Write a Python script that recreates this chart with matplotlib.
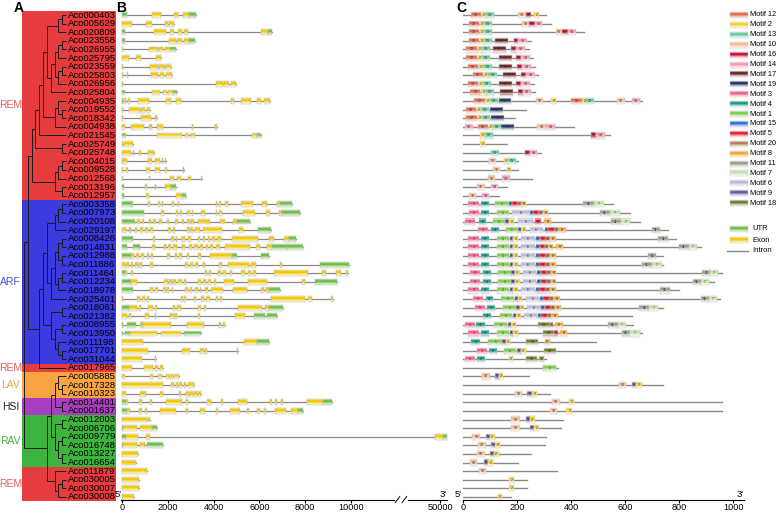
import matplotlib
matplotlib.use('Agg')
import matplotlib.pyplot as plt
from matplotlib.patches import Rectangle
from matplotlib.colors import to_rgb
import numpy as np

plt.rcParams['font.family'] = ['Liberation Sans', 'DejaVu Sans']

genes = ['Aco000403', 'Aco005629', 'Aco020809', 'Aco023558', 'Aco026955', 'Aco025795',
         'Aco023559', 'Aco025803', 'Aco026956', 'Aco025804', 'Aco004935', 'Aco019552',
         'Aco018342', 'Aco004938', 'Aco021545', 'Aco025749', 'Aco025748', 'Aco004015',
         'Aco009528', 'Aco012568', 'Aco013196', 'Aco012957',
         'Aco003358', 'Aco007973', 'Aco020108', 'Aco029197', 'Aco008426', 'Aco014831',
         'Aco012988', 'Aco011886', 'Aco011464', 'Aco012234', 'Aco018978', 'Aco025401',
         'Aco018061', 'Aco021382', 'Aco008955', 'Aco013950', 'Aco011198', 'Aco017701',
         'Aco031044',
         'Aco017965', 'Aco005885', 'Aco017328', 'Aco010323', 'Aco014401', 'Aco001637',
         'Aco012003', 'Aco006706', 'Aco009779', 'Aco016748', 'Aco013227', 'Aco016654',
         'Aco011879', 'Aco030005', 'Aco030007', 'Aco030008']

group_names = ['REM', 'ARF', 'REM', 'LAV', 'HSI', 'RAV', 'REM']
group_first = [1, 23, 42, 43, 46, 48, 54]
group_last = [22, 41, 42, 45, 47, 53, 57]
group_band = ['#e63c3e', '#3b3ade', '#e63c3e', '#f8a443', '#a73fbf', '#3db43d', '#e63c3e']
group_text = ['#ef5a5a', '#4b4be6', '#ef5a5a', '#f5a040', '#222222', '#3cb43c', '#ef5a5a']

# tree topology (leaf = row number)
rem1a = (((1, 2), 3), ((((4, 5), 6), ((7, 8), 9)), 10))
rem1b = ((11, (12, 13)), 14)
rem1 = ((((rem1a, rem1b), 15), (16, 17)), (((18, 19), 20), (21, 22)))
arf = (((((23, 24), 25), 26), ((((27, 28), (29, 30)), ((31, 32), 33)), 34)),
       ((35, 36), ((37, 38), (39, (40, 41)))))
rest = ((((43, (44, 45)), (46, 47)), ((48, 49), ((50, 51), (52, 53)))), (54, ((55, 56), 57)))
tree = ((rem1, (arf, 42)), rest)

# gene structures in bp: (kind, start, end), U = UTR, E = exon
gene_blocks = [
    [('U', 0, 200), ('E', 1330, 1700), ('E', 2250, 2450), ('E', 2660, 2920), ('U', 2920, 3230)],
    [('E', 0, 450), ('E', 1050, 1290), ('E', 1880, 2000), ('E', 2060, 2250)],
    [('U', 0, 150), ('E', 1400, 1930), ('E', 2100, 2290), ('E', 2450, 2600), ('E', 2700, 2880), ('E', 6070, 6380), ('U', 6380, 6560)],
    [('U', 0, 120), ('E', 2040, 2350), ('E', 2420, 2640), ('E', 2700, 2930), ('U', 2930, 3170)],
    [('E', 0, 30), ('E', 1200, 1560), ('E', 1620, 1780), ('E', 1880, 2100), ('U', 2100, 2350)],
    [('E', 0, 310), ('E', 610, 830), ('E', 1470, 1710)],
    [('E', 0, 30), ('E', 1230, 1560), ('E', 1620, 1840), ('E', 1880, 2150)],
    [('E', 0, 60), ('E', 230, 280), ('E', 1260, 1590), ('E', 1640, 1840), ('E', 1900, 2180)],
    [('E', 0, 30), ('E', 4090, 4400), ('E', 4460, 4670), ('E', 4760, 4990)],
    [('U', 0, 120), ('E', 1330, 1640), ('E', 1770, 1960), ('E', 2030, 2220), ('U', 2220, 2390)],
    [('U', 0, 60), ('E', 100, 170), ('E', 250, 350), ('E', 690, 1200), ('E', 1910, 2150), ('E', 2350, 2580), ('E', 4750, 4880), ('E', 5180, 5650), ('E', 5880, 6070), ('E', 6210, 6480)],
    [('E', 0, 30), ('E', 320, 790), ('E', 850, 1020), ('E', 1110, 1230)],
    [('E', 0, 30), ('E', 830, 1280), ('E', 1420, 1530)],
    [('E', 0, 130), ('E', 410, 940), ('E', 1190, 1330), ('E', 1530, 1810), ('E', 3050, 3100), ('E', 4060, 4150)],
    [('U', 0, 175), ('E', 1520, 2610), ('E', 2770, 2910), ('E', 3010, 3180), ('E', 5690, 5900), ('U', 5900, 6090)],
    [('E', 0, 60), ('E', 90, 500)],
    [('E', 0, 400), ('E', 480, 540), ('E', 760, 830), ('E', 1150, 1390)],
    [('E', 0, 50), ('E', 60, 230), ('E', 1150, 1330), ('E', 1450, 1660), ('E', 1740, 1810), ('E', 1870, 1930)],
    [('E', 0, 60), ('E', 160, 280), ('E', 1050, 1230), ('E', 1450, 1660), ('E', 1880, 1960), ('U', 2660, 2720)],
    [('E', 0, 30), ('E', 1180, 1240), ('E', 2100, 2250), ('E', 2390, 2570), ('E', 2880, 3020), ('E', 3460, 3500)],
    [('U', 0, 100), ('E', 1010, 1080), ('E', 1420, 1480), ('E', 1880, 2140), ('U', 2140, 2350)],
    [('U', 0, 100), ('E', 1050, 1180), ('E', 2350, 2610), ('U', 2610, 2800)],
    [('U', 0, 450), ('E', 450, 480), ('E', 1140, 1240), ('E', 1560, 1640), ('E', 1740, 1810), ('E', 2180, 2290), ('E', 2440, 2510), ('E', 4090, 4160), ('E', 4220, 4310), ('E', 4500, 4630), ('E', 5200, 5710), ('E', 6120, 6310), ('E', 6750, 6890), ('U', 6890, 7430)],
    [('U', 0, 980), ('E', 1710, 1830), ('E', 2360, 2440), ('E', 2540, 2630), ('E', 2830, 2980), ('E', 3050, 3120), ('E', 3450, 3640), ('E', 4090, 4160), ('E', 4250, 4350), ('E', 5290, 5810), ('E', 6280, 6470), ('E', 6860, 6980), ('U', 6980, 7770)],
    [('U', 0, 570), ('E', 640, 790), ('E', 890, 980), ('E', 1170, 1260), ('E', 1370, 1490), ('E', 1620, 1740), ('E', 1960, 2040), ('E', 2320, 2440), ('E', 2610, 2720), ('E', 2850, 2960), ('E', 3020, 3150), ('E', 3300, 3850), ('E', 4290, 4480), ('E', 4860, 5020), ('U', 5020, 5580)],
    [('E', 0, 180), ('E', 320, 410), ('E', 570, 670), ('E', 800, 910), ('E', 990, 1140), ('E', 1230, 1340), ('E', 2030, 2150), ('E', 2210, 2320), ('E', 2830, 2950), ('E', 3020, 3120), ('E', 3200, 3390), ('E', 3520, 4370), ('E', 5130, 5300), ('U', 5940, 6510)],
    [('U', 0, 500), ('E', 1370, 1460), ('E', 2150, 2250), ('E', 2350, 2420), ('E', 2610, 2740), ('E', 2880, 3010), ('E', 3310, 3390), ('E', 3530, 3640), ('E', 3750, 3860), ('E', 3940, 4060), ('E', 4150, 4340), ('E', 4800, 5930), ('E', 6420, 6630), ('E', 7070, 7290), ('U', 7290, 7610)],
    [('U', 0, 230), ('U', 470, 790), ('E', 1300, 1420), ('E', 1840, 1930), ('E', 2030, 2120), ('E', 2230, 2380), ('E', 2640, 2740), ('E', 2920, 3040), ('E', 3130, 3300), ('E', 3420, 3530), ('E', 3660, 3750), ('E', 3850, 3960), ('E', 4120, 4260), ('E', 4480, 5610), ('E', 5840, 6010), ('E', 6340, 6540), ('U', 6540, 7210), ('U', 7210, 7900)],
    [('U', 0, 410), ('E', 410, 540), ('E', 630, 730), ('E', 850, 960), ('E', 1070, 1180), ('E', 1250, 1370), ('E', 1960, 2100), ('E', 2310, 2420), ('E', 2510, 2630), ('E', 2830, 2920), ('E', 3310, 3460), ('E', 3830, 4810), ('U', 4810, 5000), ('U', 6050, 6440)],
    [('E', 0, 120), ('E', 180, 290), ('E', 380, 500), ('E', 570, 690), ('E', 760, 890), ('E', 1230, 1370), ('E', 2750, 2880), ('E', 2950, 3100), ('E', 3180, 3310), ('E', 3540, 3620), ('E', 4250, 4380), ('E', 4630, 5550), ('E', 5620, 5830), ('E', 6890, 6970), ('U', 8630, 9930)],
    [('U', 0, 150), ('E', 150, 200), ('E', 390, 500), ('E', 3610, 3710), ('E', 3780, 3880), ('E', 4180, 4320), ('E', 4420, 4560), ('E', 4730, 4800), ('E', 5210, 5390), ('E', 5490, 5620), ('E', 5720, 5830), ('E', 6630, 8130), ('E', 8730, 8890), ('E', 9340, 9550), ('E', 9770, 9870)],
    [('U', 0, 390), ('E', 390, 640), ('E', 1840, 1990), ('E', 2040, 2190), ('E', 2220, 2370), ('E', 2450, 2600), ('E', 2690, 2800), ('E', 3300, 3430), ('E', 3520, 3650), ('E', 3770, 3900), ('E', 4000, 4120), ('E', 4440, 4890), ('E', 5520, 6340), ('E', 7840, 8000), ('U', 8420, 8640), ('U', 8640, 9400)],
    [('U', 0, 470), ('E', 1230, 1370), ('E', 1450, 1550), ('E', 1800, 1910), ('E', 1960, 2060), ('E', 2180, 2230), ('E', 2770, 2900), ('E', 2950, 3070), ('E', 3170, 3300), ('E', 3390, 3460), ('E', 3640, 3740), ('E', 3880, 4410), ('E', 4850, 5460), ('E', 6070, 6210), ('E', 6280, 6410), ('U', 6410, 6890)],
    [('E', 0, 60), ('E', 660, 790), ('E', 890, 990), ('E', 1110, 1170), ('E', 2560, 2660), ('E', 2720, 2800), ('E', 3140, 3230), ('E', 3460, 3560), ('E', 3650, 3830), ('E', 4100, 4200), ('E', 4260, 4370), ('E', 6510, 8010), ('E', 8130, 8310), ('E', 9110, 9210)],
    [('U', 0, 320), ('E', 320, 670), ('E', 760, 820), ('E', 1150, 1340), ('E', 1420, 1520), ('E', 2210, 2320), ('E', 2390, 2580), ('E', 3330, 3460), ('E', 3560, 3650), ('E', 5070, 6120), ('E', 6240, 6410), ('U', 6410, 7040)],
    [('E', 0, 230), ('E', 320, 410), ('E', 990, 1160), ('E', 1420, 1480), ('E', 2100, 2250), ('E', 2320, 2390), ('E', 3300, 3420), ('E', 4920, 5390), ('U', 5750, 5990), ('U', 5990, 6260), ('U', 6340, 6780)],
    [('U', 0, 60), ('U', 200, 610), ('E', 790, 880), ('U', 880, 930), ('E', 930, 2150), ('E', 2830, 3580), ('E', 4220, 4340), ('E', 4410, 4490)],
    [('U', 0, 60), ('U', 130, 350), ('E', 350, 1520), ('E', 1700, 2570), ('U', 2710, 3450)],
    [('E', 0, 930), ('E', 5320, 5900), ('U', 5900, 6420)],
    [('E', 0, 1150), ('E', 2610, 2950), ('E', 3420, 3560), ('E', 3640, 3710), ('E', 5020, 5060)],
    [('E', 0, 890), ('E', 1450, 1490)],
    [('E', 0, 420), ('E', 980, 1370), ('E', 1450, 1590), ('E', 1660, 1770)],
    [('E', 0, 130), ('E', 1230, 1340), ('E', 1590, 1740), ('E', 1910, 2060), ('E', 2100, 2220), ('E', 2250, 2510)],
    [('E', 0, 1780), ('E', 2150, 2250), ('E', 2340, 2440), ('E', 2510, 2610), ('E', 2690, 2800), ('E', 2890, 3140)],
    [('E', 0, 160), ('E', 790, 1050), ('E', 1660, 1810), ('E', 2500, 2590), ('E', 2790, 2940), ('E', 2980, 3080), ('E', 3140, 3270), ('E', 3340, 3460)],
    [('U', 0, 180), ('E', 180, 280), ('E', 760, 860), ('E', 1210, 1310), ('E', 1910, 2610), ('E', 2800, 2890), ('E', 3710, 3890), ('E', 4330, 4410), ('E', 5070, 5460), ('E', 6460, 6530), ('E', 6660, 6770), ('E', 6950, 7040), ('E', 8090, 8760), ('U', 8760, 9160)],
    [('U', 0, 200), ('E', 200, 370), ('E', 760, 860), ('E', 990, 1080), ('E', 1670, 2350), ('E', 2800, 2890), ('E', 3420, 3610), ('E', 4120, 4190), ('E', 4700, 5170), ('E', 5460, 5530), ('E', 5900, 6010), ('E', 6190, 6290), ('E', 6700, 7170), ('E', 7360, 7680), ('U', 7680, 7920)],
    [('E', 0, 1080), ('E', 1150, 1240)],
    [('U', 0, 30), ('E', 30, 670), ('E', 790, 1290), ('U', 1290, 1520)],
    [('U', 0, 160), ('E', 160, 690), ('E', 1040, 1230), ('E', 49700, 50150), ('U', 50150, 50400)],
    [('U', 0, 60), ('E', 60, 670), ('E', 790, 1010), ('U', 1110, 1770)],
    [('E', 0, 720)],
    [('E', 0, 600)],
    [('E', 0, 1080)],
    [('E', 0, 730)],
    [('E', 0, 730)],
    [('E', 0, 540)],
]

# protein lengths (aa) and conserved motifs: (motif, start, end)
prot_len = [309, 327, 447, 253, 245, 259, 266, 278, 263, 268, 664, 235, 194, 410, 543, 163, 290,
            204, 204, 257, 163, 133,
            556, 618, 655, 760, 790, 880, 741, 741, 960, 930, 800, 950, 741, 624, 630, 661, 494,
            543, 309,
            352, 243, 741, 321, 960, 960, 371, 361, 306, 303, 253, 204, 348, 238, 238, 179]

motif_hits = [
    [(12, 28, 68), (2, 70, 86), (13, 86, 115), (10, 204, 232), (16, 235, 253), (2, 263, 281)],
    [(12, 21, 59), (2, 62, 78), (13, 78, 108), (10, 219, 245), (16, 245, 266), (14, 266, 294)],
    [(12, 21, 59), (2, 62, 78), (13, 78, 108), (10, 343, 368), (16, 368, 387), (14, 387, 420)],
    [(12, 21, 59), (2, 62, 78), (13, 78, 108), (17, 117, 167), (16, 188, 204), (14, 204, 237)],
    [(12, 12, 52), (2, 56, 70), (13, 70, 101), (17, 111, 158), (16, 179, 198), (14, 198, 231)],
    [(12, 12, 53), (2, 56, 70), (13, 70, 99), (17, 133, 182), (16, 198, 216), (14, 216, 247)],
    [(12, 19, 56), (2, 59, 74), (13, 74, 107), (17, 133, 182), (16, 201, 220), (14, 220, 251)],
    [(12, 37, 74), (2, 78, 93), (13, 93, 124), (17, 148, 198), (16, 216, 235), (14, 235, 266)],
    [(12, 19, 56), (2, 59, 74), (13, 74, 105), (17, 133, 182), (16, 198, 216), (14, 216, 247)],
    [(12, 27, 64), (2, 68, 84), (13, 84, 115), (17, 138, 185), (16, 204, 222), (14, 222, 253)],
    [(12, 41, 80), (2, 83, 99), (13, 99, 130), (19, 133, 179), (10, 269, 296), (2, 327, 346),
     (12, 398, 441), (2, 441, 457), (13, 457, 485), (10, 571, 599), (14, 624, 655)],
    [(12, 10, 49), (2, 52, 68), (13, 68, 96), (19, 101, 148)],
    [(12, 12, 52), (2, 56, 70), (13, 70, 99), (19, 105, 152)],
    [(14, 6, 37), (12, 56, 93), (2, 95, 111), (13, 111, 142), (19, 142, 189), (10, 274, 309), (14, 309, 340)],
    [(2, 64, 80), (13, 80, 111), (16, 475, 494), (14, 494, 525)],
    [(2, 64, 83)],
    [(13, 105, 133), (16, 228, 247), (14, 247, 274)],
    [(10, 96, 123), (2, 151, 167), (13, 167, 195)],
    [(10, 111, 136), (2, 161, 179)],
    [(10, 93, 120), (14, 144, 173)],
    [(10, 53, 80), (14, 103, 130)],
    [(10, 21, 49), (14, 72, 96)],
    [(3, 19, 59), (4, 68, 96), (1, 120, 170), (15, 170, 183), (5, 183, 204), (20, 204, 216), (8, 216, 235), (11, 445, 485), (7, 485, 521)],
    [(3, 21, 59), (4, 68, 96), (1, 124, 170), (6, 183, 247), (15, 247, 259), (5, 259, 282), (20, 282, 296), (8, 296, 315), (11, 506, 543), (7, 543, 580)],
    [(3, 6, 43), (4, 59, 86), (1, 111, 154), (9, 157, 169), (2, 169, 189), (6, 204, 259), (5, 266, 290), (8, 300, 327), (11, 547, 584), (7, 584, 618)],
    [(3, 56, 93), (4, 105, 133), (1, 158, 204), (9, 204, 216), (2, 216, 232), (6, 247, 296), (15, 303, 315), (5, 315, 340), (20, 340, 352), (8, 352, 383), (11, 698, 729)],
    [(3, 19, 59), (4, 68, 96), (1, 124, 170), (9, 173, 185), (2, 185, 204), (6, 216, 266), (15, 272, 284), (5, 284, 309), (20, 309, 321), (8, 321, 343), (11, 722, 760)],
    [(3, 19, 59), (4, 68, 96), (1, 124, 170), (9, 173, 185), (2, 185, 204), (6, 216, 266), (15, 272, 284), (5, 284, 303), (20, 303, 315), (8, 315, 333), (8, 346, 370), (11, 800, 835), (7, 835, 865)],
    [(3, 19, 59), (4, 68, 96), (1, 124, 170), (9, 173, 185), (2, 185, 204), (6, 216, 266), (15, 269, 281), (5, 281, 309), (20, 309, 321), (8, 321, 343), (11, 685, 716)],
    [(3, 19, 59), (4, 68, 96), (1, 124, 170), (9, 173, 185), (2, 185, 204), (6, 216, 266), (15, 269, 281), (5, 281, 309), (20, 309, 321), (8, 321, 343), (11, 664, 698), (7, 698, 735)],
    [(3, 25, 64), (4, 74, 103), (1, 130, 177), (9, 179, 191), (2, 191, 210), (6, 222, 272), (15, 275, 288), (5, 288, 312), (20, 312, 325), (8, 325, 346), (11, 885, 915), (7, 915, 945)],
    [(3, 25, 64), (4, 74, 103), (1, 130, 177), (9, 179, 191), (2, 191, 210), (6, 222, 272), (15, 275, 288), (5, 288, 312), (20, 312, 325), (8, 325, 346), (11, 850, 880), (7, 880, 910)],
    [(3, 19, 59), (4, 68, 96), (1, 124, 170), (9, 173, 185), (2, 185, 204), (6, 216, 266), (15, 269, 281), (5, 281, 309), (20, 309, 321), (8, 321, 343), (11, 729, 766)],
    [(3, 37, 74), (4, 84, 111), (1, 142, 188), (9, 191, 204), (2, 204, 220), (6, 232, 282), (15, 284, 296), (5, 296, 321), (20, 321, 333), (8, 333, 358), (11, 880, 910), (7, 910, 940)],
    [(3, 43, 80), (4, 89, 117), (1, 148, 195), (9, 198, 210), (2, 210, 225), (6, 238, 287), (15, 290, 303), (5, 303, 327), (20, 327, 340), (8, 340, 364), (11, 652, 689), (7, 689, 722)],
    [(4, 74, 105), (1, 136, 183), (9, 185, 198), (2, 198, 214), (6, 225, 274), (15, 278, 290), (5, 290, 315), (20, 315, 327), (8, 327, 352)],
    [(3, 6, 43), (4, 49, 80), (1, 115, 161), (9, 167, 179), (2, 179, 195), (18, 278, 321), (20, 321, 333), (8, 340, 370), (11, 537, 574), (7, 574, 605)],
    [(3, 19, 59), (4, 68, 96), (1, 124, 170), (9, 173, 185), (2, 185, 204), (18, 296, 336), (5, 336, 352), (8, 358, 385), (11, 587, 618), (7, 618, 655)],
    [(4, 31, 62), (1, 93, 146), (9, 146, 158), (2, 158, 173), (18, 235, 278), (8, 303, 321)],
    [(3, 53, 90), (4, 95, 124), (1, 151, 198), (9, 201, 214), (2, 214, 232), (18, 299, 346)],
    [(3, 6, 46), (4, 53, 83), (2, 169, 185), (18, 232, 274), (20, 282, 300)],
    [(1, 296, 343)],
    [(10, 70, 99), (9, 117, 132), (2, 132, 148)],
    [(10, 578, 605), (9, 624, 640), (2, 640, 661)],
    [(10, 191, 220), (9, 238, 256), (2, 256, 274)],
    [(10, 330, 358), (2, 391, 411)],
    [(10, 321, 348), (2, 383, 404)],
    [(10, 179, 210), (9, 232, 247), (2, 247, 266)],
    [(10, 179, 210), (9, 247, 263), (2, 263, 282)],
    [(10, 35, 64), (9, 84, 99), (2, 99, 117)],
    [(10, 56, 84), (9, 105, 120), (2, 120, 138)],
    [(10, 52, 80), (9, 99, 114), (2, 114, 132)],
    [(10, 25, 53), (9, 78, 93), (2, 93, 111)],
    [(10, 58, 86)],
    [(2, 170, 188)],
    [(2, 170, 188)],
    [(2, 130, 146)],
]

motif_colors = {12: '#e2694a', 2: '#f7d22a', 13: '#5fcf9a', 10: '#f7b98f', 16: '#c8142c',
                14: '#f59ab0', 17: '#6b2525', 19: '#26365f', 3: '#f0628a', 4: '#1a9a8a',
                1: '#7ccc4c', 15: '#2c74d8', 5: '#ee1c2e', 20: '#b2825a', 8: '#f7a52a',
                11: '#9a9a8a', 7: '#bfe6a0', 6: '#b8b8d8', 9: '#6a5a9e', 18: '#6f7d2d'}
legend_order = [12, 2, 13, 10, 16, 14, 17, 19, 3, 4, 1, 15, 5, 20, 8, 11, 7, 6, 9, 18]
b_ticks = [0, 2000, 4000, 6000, 8000, 10000, 50000]
c_ticks = [0, 200, 400, 600, 800, 1000]

UTR_COLOR = '#6cbf45'
EXON_COLOR = '#f3c800'
LINE_COLOR = '#8a8a8a'


def brk(bp):
    # broken axis: 0-11.6 kb linear, then jump to the 48-50 kb range
    bp = np.asarray(bp, dtype=float)
    return np.where(bp <= 11600, bp, 12300 + (bp - 48000) * 0.793)


def grad_box(ax, x0, x1, yc, h, color, edge='#b5b5b5'):
    c = np.array(to_rgb(color))
    fr = [0.55, 0.95, 1.0, 0.7, 0.4, 0.15]
    n = len(fr)
    top = yc - h / 2
    for k, f in enumerate(fr):
        col = 1 - f * (1 - c)
        ax.add_patch(Rectangle((x0, top + k * h / n), x1 - x0, h / n, facecolor=col,
                               edgecolor='none', lw=0, clip_on=False))
    ax.add_patch(Rectangle((x0, top), x1 - x0, h, facecolor='none', edgecolor=edge,
                           lw=0.35, clip_on=False))


W, H = 778, 514
fig = plt.figure(figsize=(W / 100, H / 100), dpi=100)


def ax_px(left, right, top, bottom):
    return fig.add_axes([left / W, 1 - bottom / H, (right - left) / W, (bottom - top) / H])


ROW0, DY = 15.0, 8.607
YLIM = (56.3, -1.0)
top_px = ROW0 + YLIM[1] * DY
bot_px = ROW0 + YLIM[0] * DY
n = len(genes)

# ---- panel A: tree ----
axA = ax_px(0, 121, top_px, bot_px)
axA.set_xlim(0, 121)
axA.set_ylim(*YLIM)
axA.axis('off')

for g, a, b, bc, tc in zip(group_names, group_first, group_last, group_band, group_text):
    axA.add_patch(Rectangle((22, a - 1.5), 94, b - a + 1, facecolor=bc, edgecolor='none',
                            clip_on=False))
    axA.text(10.5, (a + b) / 2 - 1, g, color=tc, fontsize=7.5, ha='center', va='center')

LEAF_X = 66


def height(node):
    if isinstance(node, int):
        return 0
    return 1 + max(height(c) for c in node)


STEP = (LEAF_X - 24) / height(tree)


def draw(node):
    if isinstance(node, int):
        return LEAF_X, node - 1
    pts = [draw(c) for c in node]
    x = LEAF_X - height(node) * STEP
    ys = [p[1] for p in pts]
    for cx, cy in pts:
        axA.plot([x, cx], [cy, cy], color='#1a1a1a', lw=0.7, solid_capstyle='butt')
    axA.plot([x, x], [min(ys), max(ys)], color='#1a1a1a', lw=0.7, solid_capstyle='butt')
    return x, (min(ys) + max(ys)) / 2


draw(tree)
for i, name in enumerate(genes):
    axA.text(67.5, i, name, fontsize=6.8, ha='left', va='center', color='black')

# ---- panel B: gene structure ----
axB = ax_px(121, 447, top_px, bot_px)
axB.set_xlim(-44, 14192)
axB.set_ylim(*YLIM)
for i, blocks in enumerate(gene_blocks):
    end = max(b[2] for b in blocks)
    axB.plot(brk([0, end]), [i, i], color=LINE_COLOR, lw=0.9, zorder=1)
    for kind, s, e in blocks:
        x0, x1 = float(brk(s)), float(brk(e))
        if x1 - x0 < 45:
            x1 = x0 + 45
        grad_box(axB, x0, x1, i, 0.68, UTR_COLOR if kind == 'U' else EXON_COLOR)
axB.set_xticks(brk(b_ticks))
axB.set_xticklabels([str(t) for t in b_ticks])
axB.set_yticks([])
for s in ['top', 'right', 'left']:
    axB.spines[s].set_visible(False)
axB.spines['bottom'].set_linewidth(0.8)
axB.tick_params(axis='x', labelsize=6.6, length=2, width=0.8, pad=0.5)
# axis break mark (in axis units)
axB.plot([11980, 12380], [YLIM[0], YLIM[0]], color='white', lw=2, clip_on=False, zorder=5)
for xb in [12030, 12330]:
    axB.plot([xb - 100, xb + 100], [YLIM[0] + 0.35, YLIM[0] - 0.35], color='black', lw=0.7,
             clip_on=False, zorder=6)
axB.text(-30, YLIM[0] - 0.1, "5'", fontsize=6.8, ha='right', va='bottom')
axB.text(14192, YLIM[0] - 0.1, "3'", fontsize=6.8, ha='right', va='bottom')

# ---- panel C: motifs ----
axC = ax_px(463, 744, top_px, bot_px)
axC.set_xlim(0, 1040)
axC.set_ylim(*YLIM)
for i, (L, hits) in enumerate(zip(prot_len, motif_hits)):
    axC.plot([0, L], [i, i], color=LINE_COLOR, lw=1.0, zorder=1)
    for m, s, e in hits:
        grad_box(axC, s, e, i, 0.72, motif_colors[m], edge='#c8c8c8')
        axC.text((s + e) / 2, i, str(m), fontsize=2.6, ha='center', va='center',
                 color='#333333', zorder=4)
axC.set_xticks(c_ticks)
axC.set_yticks([])
for s in ['top', 'right', 'left']:
    axC.spines[s].set_visible(False)
axC.spines['bottom'].set_linewidth(0.8)
axC.tick_params(axis='x', labelsize=6.6, length=2, width=0.8, pad=0.5)
axC.text(-6, YLIM[0] - 0.1, "5'", fontsize=6.8, ha='right', va='bottom')
axC.text(1040, YLIM[0] - 0.1, "3'", fontsize=6.8, ha='right', va='bottom')

# ---- overlay: panel letters and legend ----
ov = fig.add_axes([0, 0, 1, 1])
ov.set_xlim(0, W)
ov.set_ylim(H, 0)
ov.axis('off')
ov.patch.set_alpha(0)
for lab, x in [('A', 19), ('B', 121), ('C', 461)]:
    ov.text(x, 8, lab, fontsize=10, fontweight='bold', ha='center', va='center')

for k, m in enumerate(legend_order):
    y = 15 + k * 9.9
    grad_box(ov, 730, 748, y, 6, motif_colors[m], edge='#d0d0d0')
    ov.text(750, y, 'Motif %d' % m, fontsize=5.3, ha='left', va='center')
for y, lab, col in [(229, 'UTR', UTR_COLOR), (240, 'Exon', EXON_COLOR)]:
    grad_box(ov, 730, 748, y, 6, col, edge='#d0d0d0')
    ov.text(752, y, lab, fontsize=5.5, ha='left', va='center')
ov.plot([727, 748], [251, 251], color=LINE_COLOR, lw=1.0)
ov.text(752, 251, 'Intron', fontsize=5.5, ha='left', va='center')

fig.savefig('out.png', dpi=100)
